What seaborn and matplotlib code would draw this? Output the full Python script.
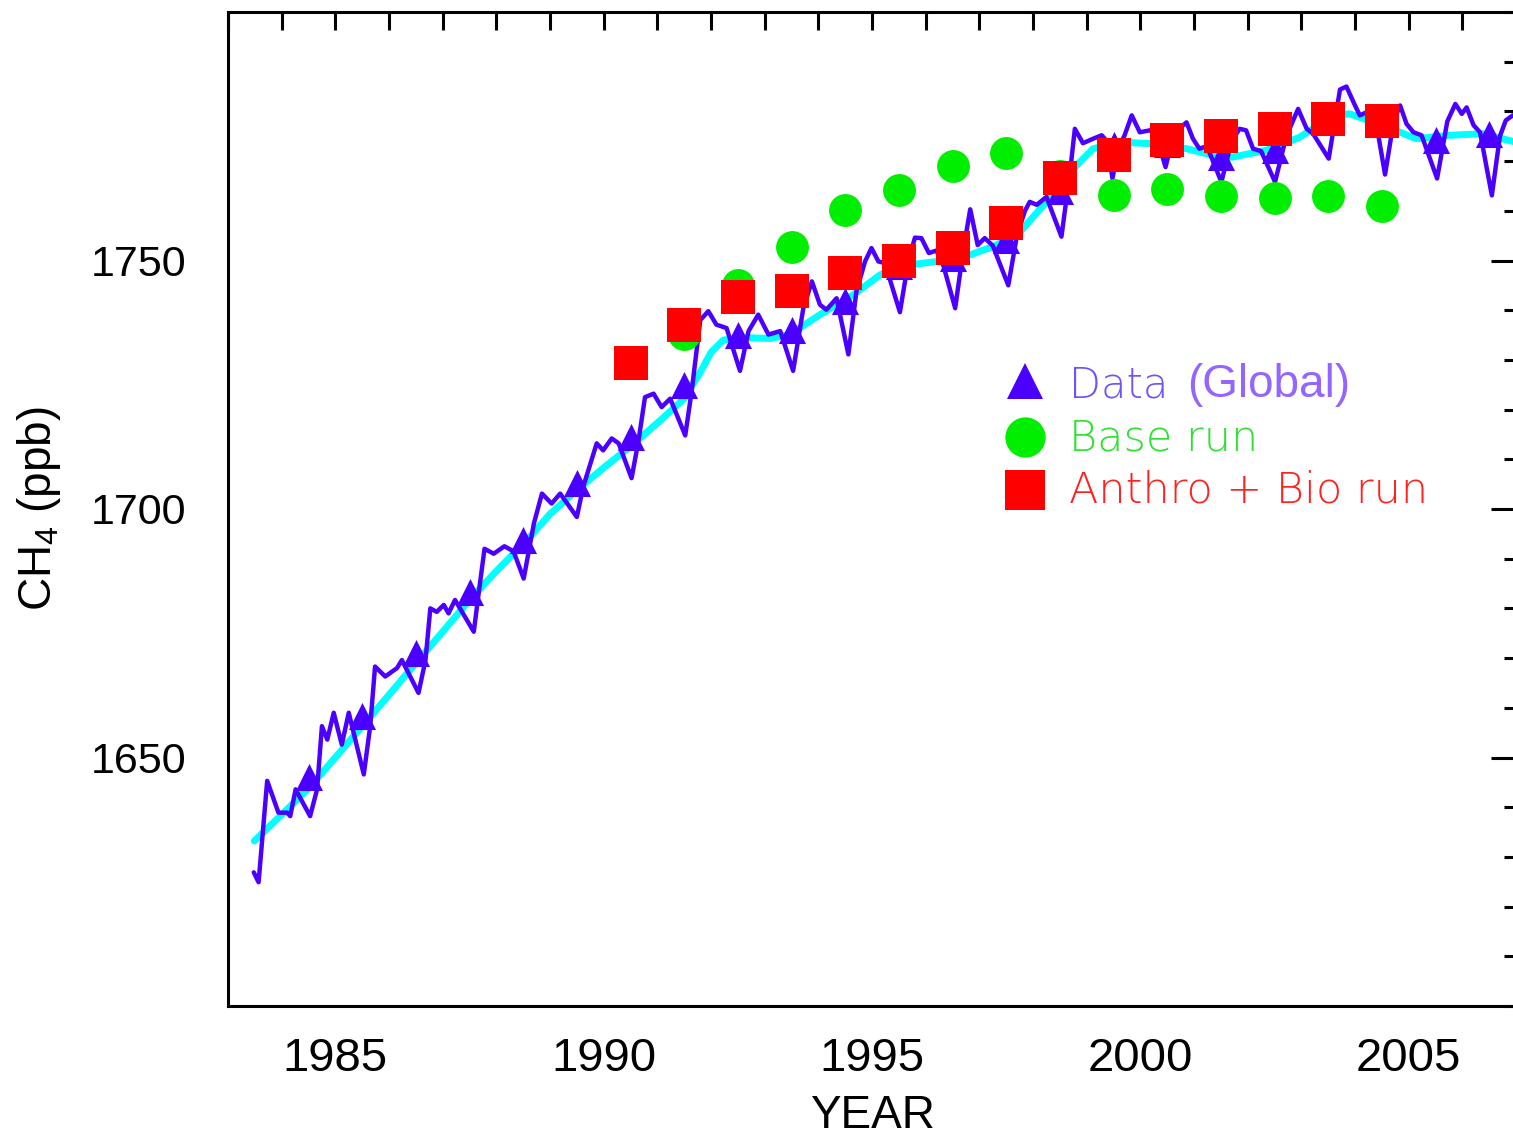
import matplotlib
matplotlib.use("Agg")
import matplotlib.pyplot as plt
from matplotlib.ticker import MultipleLocator, FixedLocator
import seaborn as sns

# monthly global CH4 (purple line) at its turning points
monthly_year = [1983.48, 1983.57, 1983.73, 1983.94, 1984.10, 1984.16, 1984.26, 1984.53, 1984.66, 1984.75,
                1984.85, 1984.97, 1985.12, 1985.25, 1985.53, 1985.65, 1985.74, 1985.93, 1986.15, 1986.24,
                1986.55, 1986.68, 1986.77, 1986.89, 1987.02, 1987.11, 1987.23, 1987.58, 1987.67, 1987.78,
                1987.95, 1988.15, 1988.32, 1988.51, 1988.70, 1988.85, 1989.03, 1989.19, 1989.50, 1989.62,
                1989.87, 1989.99, 1990.15, 1990.28, 1990.52, 1990.65, 1990.77, 1990.93, 1991.08, 1991.24,
                1991.52, 1991.64, 1991.80, 1991.95, 1992.10, 1992.29, 1992.54, 1992.70, 1992.88, 1993.07,
                1993.29, 1993.53, 1993.72, 1993.88, 1994.03, 1994.15, 1994.34, 1994.56, 1994.71, 1994.87,
                1994.99, 1995.12, 1995.24, 1995.52, 1995.68, 1995.80, 1995.92, 1996.06, 1996.20, 1996.33,
                1996.55, 1996.70, 1996.83, 1996.97, 1997.10, 1997.25, 1997.54, 1997.70, 1997.85, 1997.94,
                1998.07, 1998.25, 1998.53, 1998.69, 1998.78, 1998.93, 1999.12, 1999.28, 1999.38, 1999.48,
                1999.60, 1999.70, 1999.84, 1999.99, 2000.18, 2000.30, 2000.47, 2000.62, 2000.86, 2000.98,
                2001.10, 2001.24, 2001.51, 2001.70, 2001.85, 2001.97, 2002.10, 2002.25, 2002.51, 2002.72,
                2002.94, 2003.10, 2003.22, 2003.51, 2003.72, 2003.84, 2004.00, 2004.09, 2004.25, 2004.35,
                2004.56, 2004.72, 2004.84, 2004.96, 2005.09, 2005.24, 2005.53, 2005.72, 2005.87, 2005.99,
                2006.08, 2006.21, 2006.33, 2006.55, 2006.70, 2006.81, 2006.94]
monthly_ch4 = [1626.9, 1624.9, 1645.3, 1638.9, 1638.9, 1638.2, 1643.6, 1638.2, 1643.6, 1656.3,
               1653.6, 1659.0, 1652.6, 1659.0, 1646.6, 1656.3, 1668.3, 1666.3, 1668.0, 1669.6,
               1663.0, 1669.6, 1680.0, 1679.3, 1680.7, 1679.0, 1681.7, 1675.3, 1683.0, 1692.0,
               1691.0, 1692.5, 1691.5, 1686.0, 1697.1, 1703.1, 1701.1, 1703.1, 1698.4, 1704.5,
               1713.2, 1711.8, 1714.2, 1713.2, 1706.2, 1713.8, 1722.5, 1723.2, 1720.5, 1722.2,
               1714.8, 1723.7, 1738.0, 1739.8, 1737.1, 1736.4, 1727.8, 1735.8, 1739.1, 1735.1,
               1735.8, 1727.8, 1740.4, 1745.8, 1741.1, 1740.1, 1742.4, 1731.1, 1743.8, 1749.8,
               1752.5, 1749.8, 1749.5, 1739.6, 1750.0, 1754.6, 1754.5, 1751.5, 1752.0, 1749.0,
               1740.4, 1752.0, 1760.3, 1753.1, 1754.5, 1753.0, 1745.0, 1755.0, 1760.0, 1761.8,
               1761.2, 1762.8, 1754.8, 1767.8, 1776.5, 1773.6, 1774.5, 1775.2, 1774.0, 1766.5,
               1773.0, 1775.0, 1779.2, 1775.8, 1776.2, 1775.0, 1768.8, 1775.5, 1777.8, 1774.5,
               1772.5, 1773.0, 1765.8, 1774.0, 1776.5, 1776.2, 1772.5, 1772.0, 1765.8, 1775.0,
               1780.5, 1776.5, 1775.5, 1770.5, 1784.4, 1785.0, 1781.2, 1779.2, 1780.0, 1780.5,
               1767.3, 1778.0, 1781.2, 1777.5, 1775.8, 1775.2, 1766.5, 1778.0, 1781.5, 1779.5,
               1780.8, 1777.2, 1775.8, 1763.1, 1775.0, 1778.2, 1779.2]

# deseasonalised trend (cyan line)
trend_year = [1983.49, 1984.0, 1984.5, 1985.0, 1985.5, 1986.0, 1986.5, 1987.0, 1987.5, 1988.0,
              1988.57, 1989.0, 1989.5, 1990.0, 1990.49, 1991.0, 1991.49, 1991.8, 1992.0, 1992.23,
              1992.6, 1993.1, 1993.47, 1994.03, 1994.65, 1995.15, 1995.5, 1995.9, 1996.3, 1996.82,
              1997.3, 1997.76, 1998.25, 1998.69, 1999.12, 1999.62, 2000.24, 2000.86, 2001.48, 2001.72,
              2002.35, 2002.97, 2003.59, 2003.9, 2004.52, 2005.14, 2005.76, 2006.38, 2007.0]
trend_ch4 = [1633.2, 1638.5, 1643.8, 1650.0, 1656.3, 1662.6, 1669.0, 1675.3, 1681.7, 1687.5,
             1693.7, 1699.0, 1703.8, 1708.3, 1712.5, 1717.3, 1722.1, 1727.5, 1731.5, 1734.0,
             1734.5, 1734.3, 1735.1, 1739.1, 1743.1, 1747.1, 1748.8, 1749.4, 1749.9, 1751.1,
             1753.0, 1755.8, 1761.8, 1767.8, 1772.5, 1773.8, 1773.5, 1772.5, 1770.8, 1770.8,
             1772.2, 1774.8, 1779.2, 1779.5, 1777.2, 1774.5, 1775.2, 1775.5, 1773.8]

# annual means (triangles)
annual_year = [1984.5, 1985.5, 1986.5, 1987.5, 1988.5, 1989.5, 1990.5, 1991.5, 1992.5, 1993.5, 1994.5, 1995.5,
               1996.5, 1997.5, 1998.5, 1999.5, 2000.5, 2001.5, 2002.5, 2003.5, 2004.5, 2005.5, 2006.5]
annual_ch4 = [1646.0, 1658.4, 1671.1, 1683.3, 1693.8, 1705.2, 1714.5, 1725.0, 1735.1, 1736.1, 1741.8, 1748.8,
              1750.6, 1754.2, 1764.0, 1773.2, 1773.5, 1770.8, 1772.2, 1779.0, 1777.5, 1774.2, 1775.5]

# model runs
run_year = [1990.5, 1991.5, 1992.5, 1993.5, 1994.5, 1995.5, 1996.5, 1997.5,
            1998.5, 1999.5, 2000.5, 2001.5, 2002.5, 2003.5, 2004.5]
base_run = [1729.5, 1735.2, 1745.1, 1752.7, 1760.2, 1764.2, 1769.0, 1771.6,
            1767.0, 1763.2, 1764.3, 1763.0, 1762.5, 1763.0, 1761.0]
anthro_bio_run = [1729.3, 1737.0, 1742.7, 1743.8, 1747.5, 1750.0, 1752.6, 1757.5,
                  1766.6, 1771.2, 1774.3, 1775.1, 1776.4, 1778.4, 1778.0]

PURPLE = "#4B00FF"
CYAN = "#00FFFF"
GREEN = "#00EE00"
RED = "#FF0000"

sns.set_theme(style="white")
plt.rcParams["font.family"] = ["Liberation Sans", "DejaVu Sans"]
plt.rcParams["mathtext.fontset"] = "custom"
plt.rcParams["mathtext.rm"] = "Liberation Sans"
plt.rcParams["mathtext.it"] = "Liberation Sans"
plt.rcParams["mathtext.default"] = "regular"

fig = plt.figure(figsize=(15.13, 11.37), dpi=100)
ax = fig.add_axes([228 / 1513, 131 / 1137, 1288 / 1513, 994 / 1137])

sns.lineplot(x=trend_year, y=trend_ch4, ax=ax, color=CYAN, lw=5, sort=False, estimator=None)
sns.lineplot(x=monthly_year, y=monthly_ch4, ax=ax, color=PURPLE, lw=3.2, sort=False, estimator=None,
             solid_joinstyle="round", solid_capstyle="round")
sns.scatterplot(x=annual_year, y=annual_ch4, ax=ax, marker="^", s=380, color=PURPLE, linewidth=0, zorder=4)
sns.scatterplot(x=run_year, y=base_run, ax=ax, marker="o", s=560, color=GREEN, linewidth=0, zorder=5)
sns.scatterplot(x=run_year, y=anthro_bio_run, ax=ax, marker="s", s=600, color=RED, linewidth=0, zorder=6)

ax.set_xlim(1983, 2007)
ax.set_ylim(1600, 1800)
ax.xaxis.set_major_locator(MultipleLocator(5))
ax.xaxis.set_minor_locator(MultipleLocator(1))
ax.yaxis.set_major_locator(FixedLocator([1650, 1700, 1750]))
ax.yaxis.set_minor_locator(MultipleLocator(10))
ax.tick_params(which="both", direction="in", top=True, right=True, width=2.2, color="black",
               labelcolor="black")
ax.tick_params(axis="x", which="both", length=13, labelsize=34, pad=22)
ax.tick_params(axis="y", which="major", length=18, labelsize=31, pad=30)
ax.tick_params(axis="y", which="minor", length=8.6)
for sp in ax.spines.values():
    sp.set_linewidth(2.2)
    sp.set_color("black")

ax.set_xlabel("YEAR", fontsize=33, labelpad=10, color="black")
ax.set_ylabel(r"CH$_4$ (ppb)", fontsize=33, labelpad=20, color="black")

# legend drawn by hand, two fonts in the first entry
lx, tx = 0.619, 0.653
ax.plot([lx], [0.629], marker="^", ms=26, color=PURPLE, mew=0, transform=ax.transAxes, clip_on=False)
ax.plot([lx], [0.5724], marker="o", ms=29, color=GREEN, mew=0, transform=ax.transAxes, clip_on=False)
ax.plot([lx], [0.519], marker="s", ms=29, color=RED, mew=0, transform=ax.transAxes, clip_on=False)
ax.text(tx, 0.6247, "Data", transform=ax.transAxes, fontsize=30, color="#7050FF",
        family="DejaVu Sans", fontweight="light", va="center")
ax.text(0.745, 0.6247, "(Global)", transform=ax.transAxes, fontsize=33, color="#9466FF", va="center")
ax.text(tx, 0.5714, "Base run", transform=ax.transAxes, fontsize=31, color="#30E030",
        family="DejaVu Sans", fontweight="light", va="center")
ax.text(tx, 0.519, "Anthro + Bio run", transform=ax.transAxes, fontsize=31, color="#FF2020",
        family="DejaVu Sans", fontweight="light", va="center")

fig.savefig("out.png", dpi=100)
